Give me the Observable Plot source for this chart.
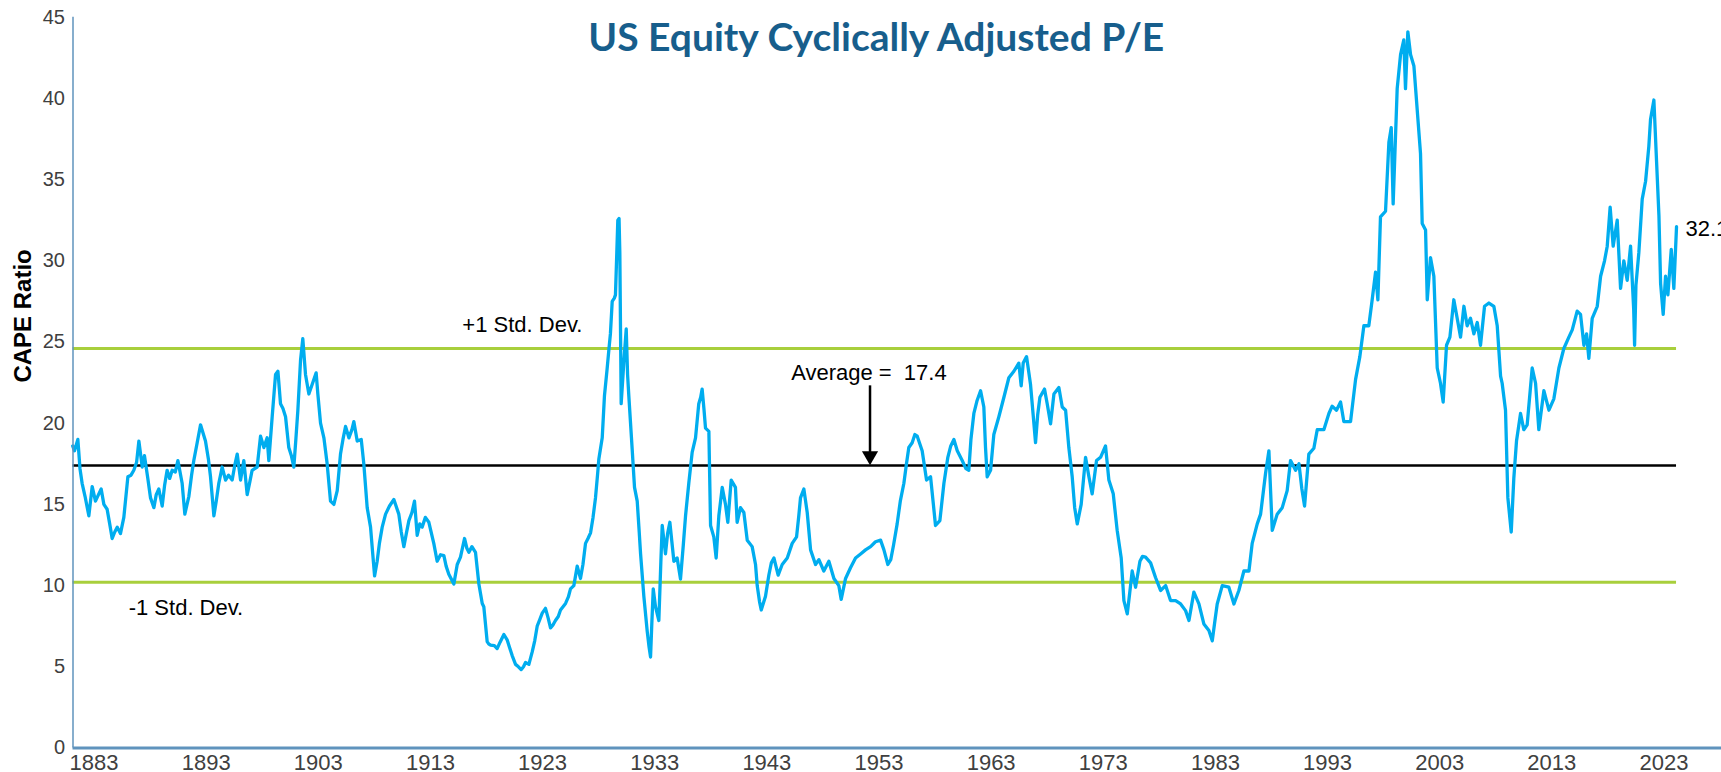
<!DOCTYPE html>
<html>
<head>
<meta charset="utf-8">
<script src="https://cdn.jsdelivr.net/npm/d3@7"></script>
<script src="https://cdn.jsdelivr.net/npm/@observablehq/plot@0.6"></script>
<style>
html, body { margin: 0; padding: 0; background: #fff; overflow: hidden; }
#chart { width: 1721px; height: 772px; }
</style>
</head>
<body>
<div id="chart"></div>
<script>
// ---- Data ----
const titleText = "US Equity Cyclically Adjusted P/E";
const yLabel = "CAPE Ratio";
const xTicks = [1883, 1893, 1903, 1913, 1923, 1933, 1943, 1953, 1963, 1973, 1983, 1993, 2003, 2013, 2023];
const yTicks = [0, 5, 10, 15, 20, 25, 30, 35, 40, 45];
const average = 17.4;
const plusOneSD = 24.6;
const minusOneSD = 10.2;
const lastValueLabel = "32.1";

// [fractional year, CAPE]
const capeSeries = [
  [1881.10,18.6],[1881.26,18.3],[1881.56,19.0],[1881.75,17.2],[1881.94,16.3],[1882.20,15.5],[1882.54,14.3],[1882.84,16.1],
  [1883.13,15.2],[1883.40,15.6],[1883.64,15.95],[1883.88,15.0],[1884.17,14.7],[1884.40,13.8],[1884.62,12.9],[1884.85,13.3],
  [1885.07,13.6],[1885.36,13.2],[1885.66,14.2],[1886.02,16.7],[1886.30,16.8],[1886.55,17.1],[1886.80,17.6],[1887.00,18.9],
  [1887.30,17.3],[1887.50,18.0],[1887.80,16.6],[1888.04,15.4],[1888.34,14.8],[1888.55,15.6],[1888.78,15.95],[1889.08,14.9],
  [1889.30,16.2],[1889.52,17.1],[1889.75,16.6],[1889.97,17.1],[1890.25,17.0],[1890.48,17.7],[1890.86,16.3],[1891.10,14.4],
  [1891.46,15.5],[1891.70,16.8],[1891.90,17.7],[1892.20,18.8],[1892.50,19.9],[1892.94,18.9],[1893.20,17.8],[1893.39,16.7],
  [1893.69,14.3],[1893.90,15.2],[1894.13,16.3],[1894.43,17.3],[1894.73,16.5],[1895.00,16.8],[1895.32,16.5],[1895.55,17.4],
  [1895.77,18.1],[1896.07,16.5],[1896.36,17.7],[1896.66,15.6],[1896.90,16.4],[1897.10,17.1],[1897.55,17.3],[1897.85,19.2],
  [1898.15,18.5],[1898.44,19.1],[1898.59,17.7],[1898.89,20.4],[1899.19,23.0],[1899.40,23.2],[1899.63,21.2],[1899.85,20.9],
  [1900.08,20.4],[1900.37,18.5],[1900.60,18.0],[1900.82,17.3],[1901.00,19.0],[1901.18,20.8],[1901.42,23.9],[1901.62,25.2],
  [1901.86,23.0],[1902.16,21.8],[1902.46,22.4],[1902.81,23.1],[1902.96,21.8],[1903.20,20.0],[1903.50,19.1],[1903.79,17.5],
  [1904.09,15.2],[1904.39,15.0],[1904.69,15.85],[1904.98,18.1],[1905.20,19.0],[1905.43,19.8],[1905.73,19.1],[1906.00,19.6],
  [1906.17,20.1],[1906.47,18.9],[1906.83,19.0],[1907.06,17.5],[1907.36,14.8],[1907.66,13.6],[1907.85,12.0],[1908.02,10.6],
  [1908.25,11.5],[1908.45,12.6],[1908.70,13.6],[1909.00,14.4],[1909.35,14.9],[1909.74,15.3],[1910.18,14.4],[1910.40,13.3],
  [1910.63,12.4],[1910.85,13.2],[1911.08,14.0],[1911.35,14.5],[1911.58,15.2],[1911.82,13.1],[1912.05,13.8],[1912.26,13.6],
  [1912.55,14.2],[1912.86,13.9],[1913.30,12.6],[1913.60,11.5],[1913.90,11.9],[1914.20,11.85],[1914.40,11.2],[1914.64,10.7],
  [1915.09,10.1],[1915.39,11.3],[1915.68,11.75],[1916.04,12.9],[1916.25,12.3],[1916.43,12.05],[1916.70,12.4],[1917.02,12.05],
  [1917.32,10.1],[1917.62,8.9],[1917.76,8.7],[1918.06,6.55],[1918.21,6.4],[1918.36,6.34],[1918.70,6.3],[1918.95,6.12],
  [1919.20,6.5],[1919.55,6.99],[1919.84,6.66],[1920.05,6.2],[1920.29,5.69],[1920.59,5.15],[1920.85,5.0],[1921.09,4.83],
  [1921.30,5.0],[1921.48,5.26],[1921.78,5.15],[1922.07,5.9],[1922.30,6.6],[1922.52,7.5],[1922.75,7.9],[1922.97,8.3],
  [1923.26,8.6],[1923.50,8.0],[1923.71,7.4],[1923.95,7.6],[1924.15,7.85],[1924.40,8.1],[1924.60,8.5],[1925.05,8.9],
  [1925.30,9.3],[1925.49,9.8],[1925.79,10.0],[1926.09,11.2],[1926.38,10.44],[1926.60,11.3],[1926.83,12.6],[1927.05,12.9],
  [1927.28,13.25],[1927.50,14.2],[1927.72,15.4],[1927.90,16.8],[1928.02,17.8],[1928.32,19.1],[1928.52,21.7],[1928.75,23.3],
  [1928.91,24.5],[1929.05,25.5],[1929.21,27.5],[1929.40,27.7],[1929.50,27.9],[1929.62,30.5],[1929.71,32.5],[1929.82,32.6],
  [1929.89,30.5],[1930.01,21.2],[1930.13,22.5],[1930.25,23.8],[1930.46,25.8],[1930.58,23.0],[1930.69,21.7],[1930.99,18.4],
  [1931.20,16.05],[1931.44,15.2],[1931.60,13.5],[1931.74,11.95],[1932.03,9.35],[1932.33,7.2],[1932.50,6.2],[1932.63,5.6],
  [1932.75,7.8],[1932.87,9.8],[1933.07,8.7],[1933.37,7.85],[1933.55,11.5],[1933.67,13.7],[1933.96,11.95],[1934.15,13.2],
  [1934.35,13.9],[1934.71,11.5],[1935.00,11.7],[1935.30,10.4],[1935.55,12.5],[1935.75,14.3],[1936.04,16.3],[1936.34,18.2],
  [1936.64,19.1],[1936.93,21.2],[1937.10,21.6],[1937.23,22.1],[1937.40,20.8],[1937.53,19.7],[1937.83,19.5],[1937.98,13.7],
  [1938.27,13.0],[1938.48,11.7],[1938.72,14.3],[1939.02,16.05],[1939.31,15.0],[1939.52,13.9],[1939.82,16.5],[1940.20,16.05],
  [1940.35,13.9],[1940.65,14.8],[1940.95,14.5],[1941.25,12.8],[1941.69,12.4],[1941.99,11.3],[1942.14,10.0],[1942.35,9.0],
  [1942.50,8.5],[1942.88,9.35],[1943.18,10.65],[1943.40,11.4],[1943.63,11.7],[1944.01,10.65],[1944.37,11.3],[1944.82,11.7],
  [1945.26,12.6],[1945.65,13.0],[1945.85,14.3],[1946.00,15.4],[1946.30,15.95],[1946.60,14.5],[1946.90,12.2],[1947.34,11.3],
  [1947.64,11.6],[1948.08,10.9],[1948.53,11.5],[1948.98,10.44],[1949.42,10.0],[1949.63,9.15],[1950.02,10.44],[1950.46,11.1],
  [1950.91,11.7],[1951.36,11.95],[1951.80,12.2],[1952.25,12.4],[1952.69,12.7],[1953.14,12.8],[1953.44,12.2],[1953.79,11.3],
  [1954.05,11.6],[1954.30,12.5],[1954.62,13.8],[1954.90,15.2],[1955.22,16.3],[1955.45,17.5],[1955.66,18.5],[1955.96,18.8],
  [1956.20,19.3],[1956.41,19.2],[1956.85,18.3],[1957.24,16.5],[1957.60,16.7],[1957.85,15.0],[1958.04,13.7],[1958.43,14.0],
  [1958.79,16.3],[1959.14,17.9],[1959.40,18.6],[1959.68,19.0],[1959.98,18.3],[1960.42,17.7],[1960.75,17.2],[1961.01,17.1],
  [1961.20,19.0],[1961.46,20.6],[1961.75,21.4],[1962.06,22.0],[1962.35,21.0],[1962.50,18.5],[1962.65,16.7],[1962.95,17.1],
  [1963.24,19.3],[1963.69,20.4],[1964.14,21.6],[1964.58,22.8],[1965.03,23.2],[1965.47,23.7],[1965.68,22.3],[1965.86,23.7],
  [1966.16,24.1],[1966.51,22.4],[1966.75,20.5],[1966.96,18.8],[1967.15,20.5],[1967.35,21.6],[1967.76,22.1],[1968.00,21.2],
  [1968.30,19.96],[1968.60,21.8],[1969.04,22.2],[1969.34,21.0],[1969.64,20.8],[1969.93,18.5],[1970.23,16.7],[1970.45,14.8],
  [1970.68,13.8],[1971.03,15.0],[1971.42,17.9],[1971.72,16.7],[1972.01,15.65],[1972.40,17.7],[1972.76,17.9],[1973.20,18.6],
  [1973.50,16.5],[1973.89,15.65],[1974.24,13.4],[1974.60,11.7],[1974.84,9.08],[1975.14,8.26],[1975.35,9.5],[1975.58,10.9],
  [1975.88,9.9],[1976.27,11.5],[1976.50,11.8],[1976.77,11.75],[1977.22,11.4],[1977.66,10.5],[1978.11,9.7],[1978.56,10.0],
  [1979.00,9.08],[1979.45,9.08],[1979.90,8.87],[1980.34,8.46],[1980.64,7.85],[1981.08,9.6],[1981.53,8.87],[1981.97,7.64],
  [1982.42,7.23],[1982.72,6.6],[1982.95,7.8],[1983.16,8.87],[1983.61,10.0],[1984.20,9.9],[1984.65,8.87],[1985.09,9.7],
  [1985.54,10.9],[1985.99,10.9],[1986.28,12.6],[1986.73,13.8],[1987.03,14.4],[1987.47,16.9],[1987.77,18.3],[1988.07,13.4],
  [1988.51,14.4],[1988.96,14.8],[1989.40,15.85],[1989.70,17.7],[1990.15,17.1],[1990.45,17.5],[1990.70,16.0],[1990.95,14.9],
  [1991.33,18.1],[1991.78,18.46],[1992.08,19.6],[1992.67,19.6],[1993.12,20.6],[1993.41,21.05],[1993.80,20.8],[1994.16,21.3],
  [1994.45,20.1],[1995.05,20.1],[1995.50,22.7],[1995.88,24.1],[1996.24,26.0],[1996.68,26.0],[1996.98,27.6],[1997.28,29.3],
  [1997.49,27.6],[1997.72,32.7],[1998.17,33.05],[1998.47,37.3],[1998.68,38.2],[1998.85,33.5],[1999.21,40.6],[1999.51,42.7],
  [1999.80,43.6],[1999.95,40.6],[2000.16,44.1],[2000.40,42.7],[2000.70,42.0],[2000.93,39.9],[2001.29,36.6],[2001.44,32.3],
  [2001.74,31.9],[2001.89,27.6],[2002.18,30.2],[2002.48,29.05],[2002.78,23.4],[2003.07,22.46],[2003.31,21.3],[2003.61,24.8],
  [2003.91,25.3],[2004.26,27.6],[2004.56,26.46],[2004.86,25.3],[2005.16,27.2],[2005.45,26.0],[2005.75,26.46],[2006.05,25.5],
  [2006.35,26.2],[2006.64,24.8],[2007.00,27.2],[2007.39,27.4],[2007.83,27.2],[2008.13,26.0],[2008.43,22.9],[2008.57,22.46],
  [2008.87,20.8],[2009.08,15.4],[2009.38,13.3],[2009.61,16.6],[2009.85,18.9],[2010.21,20.6],[2010.50,19.6],[2010.80,19.9],
  [2011.25,23.4],[2011.55,22.46],[2011.84,19.6],[2012.29,22.0],[2012.74,20.8],[2013.18,21.5],[2013.63,23.4],[2014.07,24.6],
  [2014.52,25.3],[2014.82,25.75],[2015.26,26.9],[2015.56,26.7],[2015.86,24.8],[2016.10,25.5],[2016.30,24.0],[2016.60,26.46],
  [2017.05,27.2],[2017.35,29.05],[2017.70,30.0],[2017.94,30.9],[2018.20,33.3],[2018.47,30.9],[2018.83,32.5],[2019.13,28.3],
  [2019.42,30.0],[2019.72,28.8],[2020.02,30.9],[2020.30,27.0],[2020.38,24.8],[2020.50,28.5],[2020.76,30.5],[2021.06,33.8],
  [2021.36,34.9],[2021.65,37.05],[2021.80,38.7],[2022.10,39.9],[2022.34,36.1],[2022.55,32.8],[2022.70,28.6],[2022.93,26.7],
  [2023.14,29.05],[2023.35,27.9],[2023.65,30.7],[2023.88,28.3],[2024.12,32.1]
];

// annotation anchor positions (data coordinates)
const sdUpLabel = {x: 1921.2, y: 26.05, text: "+1 Std. Dev."};
const sdDownLabel = {x: 1891.2, y: 8.65, text: "-1 Std. Dev."};
const avgLabel = {x: 1952.1, y: 23.1, text: "Average = \u00a017.4"};
const arrowPos = {x: 1952.2, yTop: 22.3};

// ---- Build ----
const data = capeSeries.map(([year, value]) => ({year, value}));
const last = data[data.length - 1];
const xDomain = [1881.127, 2028.13];
const axisColor = "#5f93bd";
const font = "'Liberation Sans', Arial, sans-serif";

const chart = Plot.plot({
  width: 1721,
  height: 772,
  marginLeft: 72.5,
  marginRight: 0,
  marginTop: 16.7,
  marginBottom: 24.5,
  style: {fontFamily: font, fontSize: "20px", color: "#404040", background: "#fff", overflow: "visible"},
  x: {domain: xDomain, ticks: xTicks, tickFormat: d => String(d)},
  y: {domain: [0, 45], ticks: yTicks},
  marks: [
    Plot.axisY({ticks: yTicks, tickSize: 0, tickPadding: 8, label: null, fontSize: 20, fill: "#404040"}),
    Plot.axisX({ticks: xTicks, tickSize: 0, tickPadding: 6, label: null, fontSize: 22, fill: "#404040", tickFormat: d => String(d)}),
    Plot.ruleY([plusOneSD, minusOneSD], {x1: xDomain[0], x2: last.year, stroke: "#a8cf3c", strokeWidth: 3}),
    Plot.ruleY([average], {x1: xDomain[0], x2: last.year, stroke: "#000", strokeWidth: 2.5}),
    Plot.line(data, {x: "year", y: "value", stroke: "#00adef", strokeWidth: 3.3, strokeLinejoin: "round"}),
    Plot.ruleX([xDomain[0]], {y1: 0, y2: 45, stroke: axisColor, strokeWidth: 1.5}),
    Plot.ruleY([0], {x1: xDomain[0], x2: xDomain[1], stroke: axisColor, strokeWidth: 3}),
    Plot.text([sdUpLabel], {x: "x", y: "y", text: "text", fontSize: 22, fill: "#000", fontFamily: font}),
    Plot.text([sdDownLabel], {x: "x", y: "y", text: "text", fontSize: 22, fill: "#000", fontFamily: font}),
    Plot.text([avgLabel], {x: "x", y: "y", text: "text", fontSize: 22, fill: "#000", fontFamily: font}),
    Plot.ruleX([arrowPos], {x: "x", y1: "yTop", y2: average + 0.8, stroke: "#000", strokeWidth: 2.5}),
    Plot.dot([arrowPos], {x: "x", y: average + 0.58, symbol: "triangle", r: 6, rotate: 180, fill: "#000", stroke: "none"}),
    Plot.text([last], {x: "year", y: "value", text: () => lastValueLabel, textAnchor: "start", dx: 9, dy: 2, fontSize: 22, fill: "#000", fontFamily: font}),
    Plot.text([yLabel], {frameAnchor: "left", dx: -50, rotate: -90, fontSize: 24, fontWeight: "bold", fill: "#000", fontFamily: font}),
    Plot.text([titleText], {frameAnchor: "top", dx: -21, dy: 6, fontSize: 39, fontWeight: "bold", fill: "#175e8c", fontFamily: "Lato, 'Open Sans', sans-serif"})
  ]
});
document.getElementById("chart").appendChild(chart);
</script>
</body>
</html>
